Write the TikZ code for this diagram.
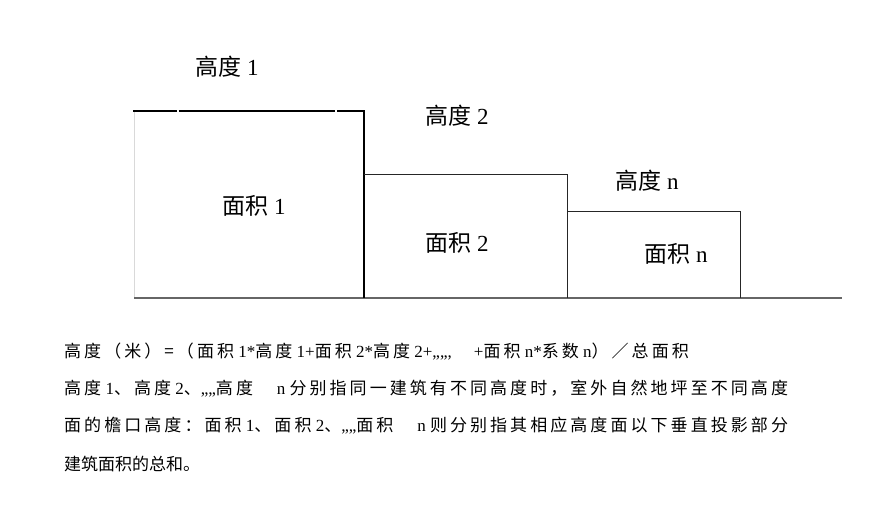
\documentclass[tikz,border=0pt]{standalone}
\usepackage{fontspec}
\setmainfont{Liberation Serif}
\newfontfamily\cjkfont{Noto Sans CJK SC}
\newfontfamily\cjkwide[LetterSpace=18]{Noto Sans CJK SC}
\newcommand{\zh}[1]{{\cjkfont #1}}
\newcommand{\zw}[1]{{\cjkwide #1}}
\tikzset{
  labeltext/.style={inner sep=0pt,font=\fontsize{23}{27}\selectfont},
  notetext/.style={inner sep=0pt,anchor=west,font=\fontsize{17}{20}\selectfont}
}
\begin{document}
\begin{tikzpicture}[x=1pt,y=-1pt]
	\useasboundingbox (0,0) rectangle (869,514);
	% ground line
	\draw[line width=1.6pt,color=black!60] (134,298) -- (842,298);
	% part 1
	\draw[line width=0.8pt,color=black!15] (134,111) -- (134,297);
	\draw[line width=2.6pt] (133,111) -- (176.5,111);
	\draw[line width=2.6pt] (178.5,111) -- (335,111);
	\draw[line width=2.6pt] (337,111) -- (364.8,111);
	\draw[line width=1.4pt] (364,111) -- (364,298);
	% part 2
	\draw[line width=1pt,color=black!85] (364,174) -- (567,174) -- (567,298);
	% part n
	\draw[line width=1pt,color=black!85] (567,211) -- (740,211) -- (740,298);
	% labels
	\node[labeltext] (h1) at (227,67) {\zh{高度} 1};
	\node[labeltext] (h2) at (457,116) {\zh{高度} 2};
	\node[labeltext] (hn) at (647,181) {\zh{高度} n};
	\node[labeltext] (a1) at (254,206) {\zh{面积} 1};
	\node[labeltext] (a2) at (457,243) {\zh{面积} 2};
	\node[labeltext] (an) at (676,254) {\zh{面积} n};
	% notes
	\node[notetext] (l1) at (64,352) {\zw{高度（米）=（面积} 1*\zw{高度} 1+\zw{面积} 2*\zw{高度} 2+,,,,,\hspace{1.3em}+\zw{面积} n*\zw{系数} n\zw{）／总面积}};
	\node[notetext] (l2) at (64,389) {\zw{高度} 1\zw{、高度} 2\zw{、},,,,\zw{高度}\hspace{1.4em}n \zw{分别指同一建筑有不同高度时，室外自然地坪至不同高度}};
	\node[notetext] (l3) at (64,426) {\zw{面的檐口高度：面积} 1\zw{、面积} 2\zw{、},,,,\zw{面积}\hspace{1.4em}n \zw{则分别指其相应高度面以下垂直投影部分}};
	\node[notetext] (l4) at (64,464) {\zh{建筑面积的总和。}};
\end{tikzpicture}
\end{document}
